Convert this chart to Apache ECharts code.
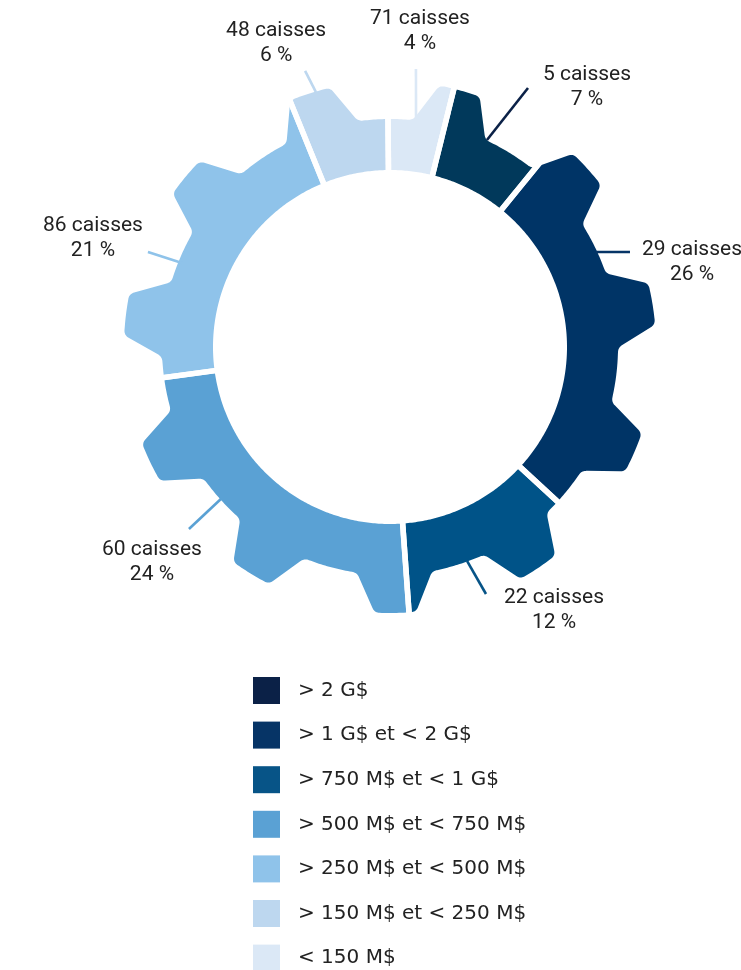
<!DOCTYPE html>
<html>
<head>
<meta charset="utf-8">
<script src="https://cdn.jsdelivr.net/npm/echarts@6/dist/echarts.min.js"></script>
<style>
  html, body { margin: 0; padding: 0; background: #ffffff; }
  #chart { width: 741px; height: 970px; }
</style>
</head>
<body>
<div id="chart"></div>
<script>
// Répartition des caisses par taille d'actif
const categories = ['> 2 G$', '> 1 G$ et < 2 G$', '> 750 M$ et < 1 G$', '> 500 M$ et < 750 M$',
                    '> 250 M$ et < 500 M$', '> 150 M$ et < 250 M$', '< 150 M$'];
const caisses = [5, 29, 22, 60, 86, 48, 71];
const percents = [7, 26, 12, 24, 21, 6, 4];

const sliceColors  = ['#01395b', '#003466', '#005388', '#5aa1d4', '#8fc3ea', '#bdd7ef', '#dbe8f6'];
const legendColors = ['#0b2147', '#063466', '#075487', '#5aa1d4', '#8fc3ea', '#bdd7ef', '#dbe8f6'];

// Label leader lines, as [radius, angle] pairs in the polar system, and text offsets (px)
const labelLeaders = [
  [[228.6, 3.11], [293.5, 3.93]],
  [[226.8, 14.26], [258.1, 15.14]],
  [[227.4, 40.64], [265.0, 40.24]],
  [[225.9, 59.49], [271.2, 59.43]],
  [[224.3, 77.25], [260.0, 77.09]],
  [[265.5, 91.64], [288.8, 91.39]],
  [[230.5, 97.94], [279.2, 97.62]]
];
const labelOffsets = [[59, -1], [62, 10], [68, 16], [-37, 33], [-55, -14], [-29, -28], [4, -37.5]];

const TOTAL = percents.reduce((a, b) => a + b, 0);
const starts = [];
percents.reduce((acc, v) => { starts.push(acc); return acc + v; }, 0);

// Gear geometry (radii in px, tooth sizes as a fraction of the tooth period)
const TEETH = 11;
const R_TIP = 266, R_ROOT = 228, R_IN = 177;
const TOOTH_PHASE = 0.04, TIP_HALF = 0.1375, BASE_HALF = 0.29;
const FILLET_TIP = 5, FILLET_ROOT = 5;
const GAP = 5.5;

function buildGearOutline() {
  const P = TOTAL / TEETH;
  const ang = u => u / TOTAL * 2 * Math.PI;
  const xy = (r, u) => [r * Math.cos(ang(u)), r * Math.sin(ang(u))];
  const tan = u => [-Math.sin(ang(u)), Math.cos(ang(u))];
  const norm = v => { const l = Math.hypot(v[0], v[1]); return [v[0] / l, v[1] / l]; };
  const du = (d, r) => d / r * TOTAL / (2 * Math.PI);
  const pts = [];
  const fillet = (p, din, dout, d) => {
    const a = [p[0] - din[0] * d, p[1] - din[1] * d];
    const b = [p[0] + dout[0] * d, p[1] + dout[1] * d];
    for (let s = 0; s <= 10; s++) {
      const t = s / 10, m = (1 - t) * (1 - t), n = 2 * t * (1 - t), o = t * t;
      pts.push([m * a[0] + n * p[0] + o * b[0], m * a[1] + n * p[1] + o * b[1]]);
    }
  };
  const arc = (r, uA, uB) => {
    const n = Math.max(2, Math.ceil((uB - uA) / P * 60));
    for (let s = 1; s < n; s++) pts.push(xy(r, uA + (uB - uA) * s / n));
  };
  const th = TIP_HALF * P, bh = BASE_HALF * P;
  for (let k = 0; k < TEETH; k++) {
    const c = (TOOTH_PHASE + k) * P;
    const A = xy(R_ROOT, c - bh), B = xy(R_TIP, c - th), C = xy(R_TIP, c + th), D = xy(R_ROOT, c + bh);
    const ab = norm([B[0] - A[0], B[1] - A[1]]);
    const cd = norm([D[0] - C[0], D[1] - C[1]]);
    fillet(A, tan(c - bh), ab, FILLET_ROOT);
    fillet(B, ab, tan(c - th), FILLET_TIP);
    arc(R_TIP, c - th + du(FILLET_TIP, R_TIP), c + th - du(FILLET_TIP, R_TIP));
    fillet(C, tan(c + th), cd, FILLET_TIP);
    fillet(D, cd, tan(c + bh), FILLET_ROOT);
    arc(R_ROOT, c + bh + du(FILLET_ROOT, R_ROOT), c + P - bh - du(FILLET_ROOT, R_ROOT));
  }
  return pts.map(p => {
    let u = Math.atan2(p[1], p[0]) / (2 * Math.PI) * TOTAL;
    if (u < 0) u += TOTAL;
    return [Math.hypot(p[0], p[1]), u];
  }).sort((a, b) => a[1] - b[1]);
}

const OUTLINE = buildGearOutline();
const PADDED = [[OUTLINE[OUTLINE.length - 1][0], OUTLINE[OUTLINE.length - 1][1] - TOTAL]]
  .concat(OUTLINE, [[OUTLINE[0][0], OUTLINE[0][1] + TOTAL]]);

function outlineR(u) {
  for (let j = 1; j < PADDED.length; j++) {
    if (PADDED[j][1] >= u) {
      const p = PADDED[j - 1], q = PADDED[j];
      const t = (u - p[1]) / ((q[1] - p[1]) || 1);
      return p[0] + (q[0] - p[0]) * t;
    }
  }
  return R_ROOT;
}

function outlineBetween(u0, u1) {
  const out = [[outlineR(u0), u0]];
  OUTLINE.forEach(p => { if (p[1] > u0 && p[1] < u1) out.push(p); });
  out.push([outlineR(u1), u1]);
  return out;
}

function makeRenderer(i) {
  return function (params, api) {
    const u0 = api.value(1), u1 = api.value(2);
    const pts = outlineBetween(u0, u1).map(p => api.coord(p));
    const n = Math.max(12, Math.ceil((u1 - u0) * 6));
    for (let j = 0; j <= n; j++) pts.push(api.coord([R_IN, u1 - (u1 - u0) * j / n]));
    const children = [{
      type: 'polygon', z2: 1,
      shape: { points: pts },
      style: { fill: sliceColors[i] }
    }];
    [u0, u1].forEach(u => {
      const a = api.coord([R_IN - 8, u]), b = api.coord([R_TIP + 12, u]);
      children.push({
        type: 'line', z2: 5,
        shape: { x1: a[0], y1: a[1], x2: b[0], y2: b[1] },
        style: { stroke: '#ffffff', lineWidth: GAP }
      });
    });
    const lp = labelLeaders[i].map(p => api.coord(p));
    children.push({
      type: 'polyline', z2: 8,
      shape: { points: lp },
      style: { stroke: legendColors[i], lineWidth: 2.6, fill: null }
    });
    const end = lp[lp.length - 1];
    children.push({
      type: 'text', z2: 9,
      style: {
        text: caisses[i] + ' caisses\n' + percents[i] + ' %',
        x: end[0] + labelOffsets[i][0],
        y: end[1] + labelOffsets[i][1],
        align: 'center', textAlign: 'center',
        verticalAlign: 'middle', textVerticalAlign: 'middle',
        fontFamily: 'Roboto', fontSize: 21, lineHeight: 25,
        fill: '#222222'
      }
    });
    return { type: 'group', children };
  };
}

const chart = echarts.init(document.getElementById('chart'), null, { renderer: 'canvas' });
chart.setOption({
  backgroundColor: '#ffffff',
  animation: false,
  polar: { center: [390, 347], radius: R_TIP },
  radiusAxis: {
    type: 'value', min: 0, max: R_TIP,
    axisLine: { show: false }, axisTick: { show: false }, axisLabel: { show: false }, splitLine: { show: false }
  },
  angleAxis: {
    type: 'value', min: 0, max: TOTAL, startAngle: 76.1, clockwise: true,
    axisLine: { show: false }, axisTick: { show: false }, axisLabel: { show: false }, splitLine: { show: false }
  },
  legend: {
    orient: 'vertical', left: 253, top: 677, height: 340, padding: 0,
    itemWidth: 27, itemHeight: 27, itemGap: 17.6,
    icon: 'rect', selectedMode: false,
    textStyle: { fontFamily: 'DejaVu Sans', fontSize: 20, color: '#222222', padding: [9, 0, 0, 13] },
    data: categories.map((name, i) => ({ name, itemStyle: { color: legendColors[i] } }))
  },
  series: categories.map((name, i) => ({
    type: 'custom',
    name,
    coordinateSystem: 'polar',
    silent: true,
    clip: false,
    itemStyle: { color: sliceColors[i] },
    encode: { radius: 0, angle: [1, 2] },
    data: [[R_TIP, starts[i], starts[i] + percents[i]]],
    renderItem: makeRenderer(i)
  }))
});
</script>
</body>
</html>
